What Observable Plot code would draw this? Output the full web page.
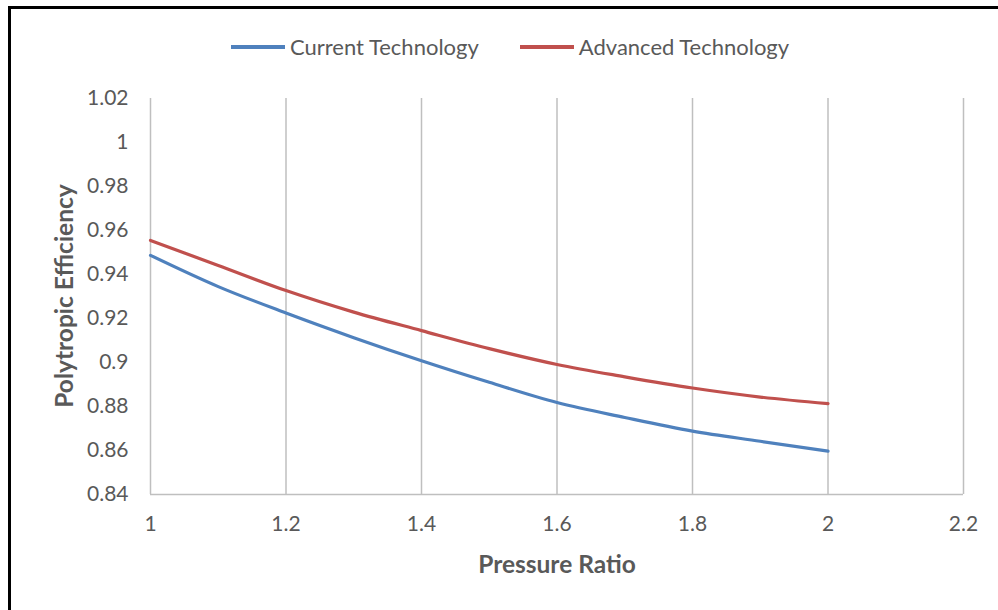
<!DOCTYPE html>
<html>
<head>
<meta charset="utf-8">
<script src="https://cdn.jsdelivr.net/npm/d3@7"></script>
<script src="https://cdn.jsdelivr.net/npm/@observablehq/plot@0.6"></script>
<style>
  html, body { margin: 0; padding: 0; background: #fff; }
  #wrap { position: relative; width: 998px; height: 610px; overflow: hidden; font-family: Lato, "Open Sans", sans-serif; }
  #frame { position: absolute; left: 8px; top: 6px; width: 1100px; height: 700px; border-top: 3px solid #000; border-left: 3px solid #000; box-sizing: border-box; }
  #legend { position: absolute; top: 27px; left: 231px; font-size: 22px; color: #595959; white-space: nowrap; line-height: 28px; }
  .item { display: inline-flex; align-items: center; margin-right: 41px; }
  .swatch { display: inline-block; width: 54px; height: 4px; margin-right: 5px; }
  .ytitle { position: absolute; left: 63px; top: 296px; transform: translate(-50%, -50%) rotate(-90deg); font-size: 24.5px; font-weight: bold; color: #595959; white-space: nowrap; }
  .xtitle { position: absolute; left: 557px; top: 563px; transform: translate(-50%, -50%); font-size: 24.5px; font-weight: bold; color: #595959; white-space: nowrap; }
  #chart { position: absolute; left: 0; top: 0; }
</style>
</head>
<body>
<div id="wrap">
  <div id="chart"></div>
  <div id="frame"></div>
  <div id="legend"></div>
  <div class="ytitle">Polytropic Efficiency</div>
  <div class="xtitle">Pressure Ratio</div>
</div>
<script>
const pressureRatio = [1, 1.1, 1.2, 1.3, 1.4, 1.5, 1.6, 1.7, 1.8, 1.9, 2];
const currentTech  = [0.9487, 0.9345, 0.9225, 0.9113, 0.9008, 0.8910, 0.8818, 0.8750, 0.8688, 0.8642, 0.8597];
const advancedTech = [0.9555, 0.9441, 0.9327, 0.9229, 0.9145, 0.9063, 0.8991, 0.8935, 0.8884, 0.8843, 0.8813];
const seriesNames = ["Current Technology", "Advanced Technology"];
const seriesColors = ["#4F81BD", "#C0504D"];
const xTicks = [1, 1.2, 1.4, 1.6, 1.8, 2, 2.2];
const yTicks = [0.84, 0.86, 0.88, 0.9, 0.92, 0.94, 0.96, 0.98, 1, 1.02];

const data = [];
pressureRatio.forEach((p, i) => {
  data.push({x: p, y: currentTech[i], s: seriesNames[0]});
  data.push({x: p, y: advancedTech[i], s: seriesNames[1]});
});

const fmt = d => String(+d.toFixed(2));

const chart = Plot.plot({
  width: 998,
  height: 610,
  marginLeft: 150,
  marginRight: 35,
  marginTop: 98,
  marginBottom: 116,
  style: {fontFamily: "Lato, 'Open Sans', sans-serif", fontSize: "21px", color: "#595959", background: "transparent"},
  x: {domain: [1, 2.2]},
  y: {domain: [0.84, 1.02]},
  color: {domain: seriesNames, range: seriesColors},
  marks: [
    Plot.ruleX(xTicks.slice(1), {stroke: "#bfbfbf", strokeWidth: 1.5}),
    Plot.ruleX([1], {stroke: "#bfbfbf", strokeWidth: 1.5}),
    Plot.ruleY([0.84], {stroke: "#bfbfbf", strokeWidth: 1.5}),
    Plot.axisX({ticks: xTicks, tickFormat: fmt, tickSize: 0, tickPadding: 22, label: null, fill: "#595959"}),
    Plot.axisY({ticks: yTicks, tickFormat: fmt, tickSize: 0, tickPadding: 22, label: null, fill: "#595959"}),
    Plot.line(data, {x: "x", y: "y", z: "s", stroke: "s", strokeWidth: 3.2, curve: "monotone-x"})
  ]
});
document.getElementById("chart").appendChild(chart);

const legend = document.getElementById("legend");
seriesNames.forEach((n, i) => {
  const item = document.createElement("span");
  item.className = "item";
  const sw = document.createElement("span");
  sw.className = "swatch";
  sw.style.background = seriesColors[i];
  item.appendChild(sw);
  item.appendChild(document.createTextNode(n));
  legend.appendChild(item);
});
</script>
</body>
</html>
